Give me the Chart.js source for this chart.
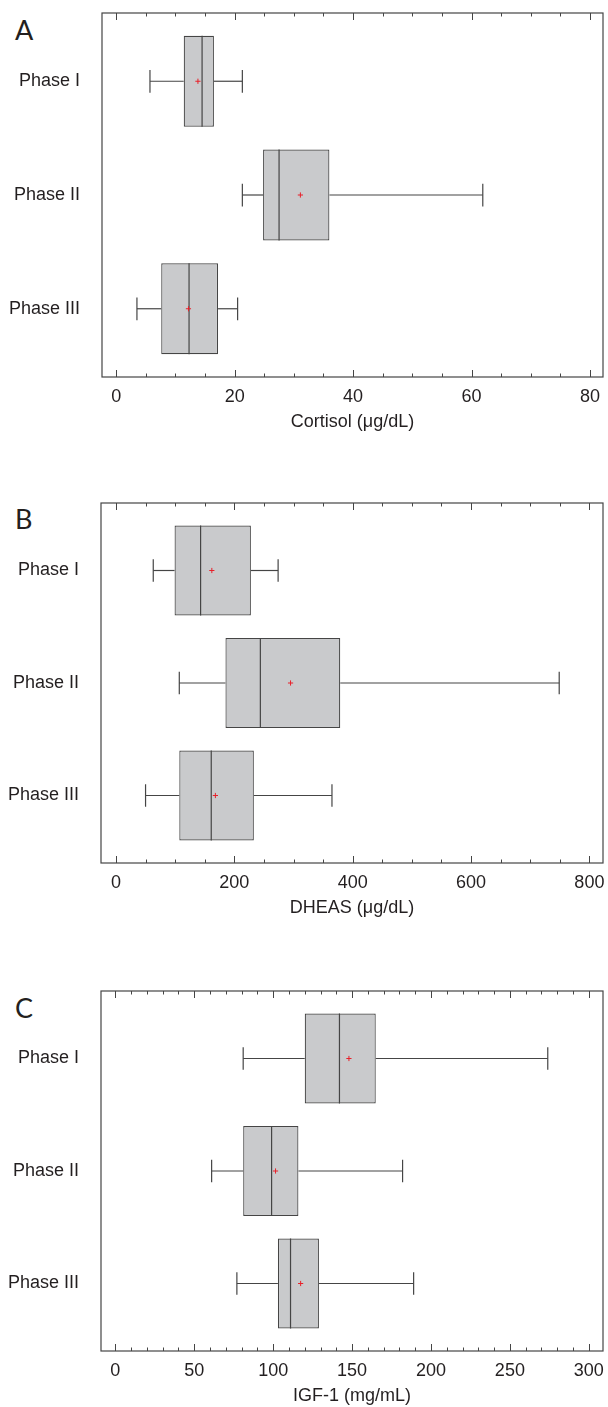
<!DOCTYPE html>
<html>
<head>
<meta charset="utf-8">
<script src="https://cdn.jsdelivr.net/npm/chart.js@4.4.1/dist/chart.umd.min.js"></script>
<style>
  body { margin: 0; background: #fff; }
  #page { position: relative; width: 608px; height: 1407px; }
  canvas { position: absolute; left: 0; }
  .tag { position: absolute; left: 15px; font: 27px Lato, "Liberation Sans", sans-serif; line-height: 27px; color: #231f20; }
</style>
</head>
<body>
<div id="page">
  <div class="tag" style="top:16px">A</div>
  <canvas id="chartA" width="608" height="440" style="top:0px"></canvas>
  <div class="tag" style="top:505px">B</div>
  <canvas id="chartB" width="608" height="460" style="top:470px"></canvas>
  <div class="tag" style="top:994px">C</div>
  <canvas id="chartC" width="608" height="458" style="top:949px"></canvas>
</div>
<script>
// categories
const phases = ["Phase I", "Phase II", "Phase III"];

// Cortisol (µg/dL): whisker low, Q1, median, Q3, whisker high, mean
const cortisolLow    = [5.7, 21.3, 3.5];
const cortisolQ1     = [11.4, 24.8, 7.6];
const cortisolMedian = [14.5, 27.5, 12.3];
const cortisolQ3     = [16.5, 36.0, 17.2];
const cortisolHigh   = [21.3, 61.9, 20.5];
const cortisolMean   = [13.8, 31.1, 12.2];
const cortisolTicks  = [0, 20, 40, 60, 80];

// DHEAS (µg/dL)
const dheasLow    = [63, 107, 50];
const dheasQ1     = [99, 185, 107];
const dheasMedian = [143, 244, 161];
const dheasQ3     = [228, 379, 233];
const dheasHigh   = [274, 749, 365];
const dheasMean   = [162, 295, 168];
const dheasTicks  = [0, 200, 400, 600, 800];

// IGF-1 (mg/mL)
const igfLow    = [81, 61, 77];
const igfQ1     = [120, 81, 103];
const igfMedian = [142, 99, 111];
const igfQ3     = [165, 116, 129];
const igfHigh   = [274, 182, 189];
const igfMean   = [148, 101.5, 117.4];
const igfTicks  = [0, 50, 100, 150, 200, 250, 300];

const FONT = "'Liberation Sans', Arial, sans-serif";
const TEXT = "#231f20";
const LINE = "#454545";

function makePanel(id, p) {
  // frame round the plot area, with inward ticks on top and bottom
  const framePlugin = {
    id: "frame",
    afterDraw(chart) {
      const { ctx, chartArea: a, scales: { x } } = chart;
      ctx.save();
      ctx.strokeStyle = LINE;
      ctx.lineWidth = 1.2;
      ctx.strokeRect(a.left, a.top, a.right - a.left, a.bottom - a.top);
      ctx.lineWidth = 1;
      x.ticks.forEach(t => {
        const px = Math.round(x.getPixelForValue(t.value)) + 0.5;
        const len = p.major.includes(t.value) ? 7 : 3.5;
        ctx.beginPath();
        ctx.moveTo(px, a.bottom); ctx.lineTo(px, a.bottom - len);
        ctx.moveTo(px, a.top);    ctx.lineTo(px, a.top + len);
        ctx.stroke();
      });
      ctx.restore();
    }
  };

  // whiskers and median, drawn right after the boxes
  const boxPlugin = {
    id: "boxParts",
    afterDatasetDraw(chart, args) {
      if (args.index !== 1) return;
      const { ctx, scales: { x, y } } = chart;
      const bars = chart.getDatasetMeta(1).data;
      const line = (x1, y1, x2, y2) => { ctx.beginPath(); ctx.moveTo(x1, y1); ctx.lineTo(x2, y2); ctx.stroke(); };
      ctx.save();
      ctx.strokeStyle = LINE;
      ctx.lineWidth = 1.2;
      p.low.forEach((lo, i) => {
        const cy = y.getPixelForValue(i + 1);
        const c1 = y.getPixelForValue(i + 1 - 0.1), c2 = y.getPixelForValue(i + 1 + 0.1);
        const xl = x.getPixelForValue(lo), xh = x.getPixelForValue(p.high[i]);
        const x1 = x.getPixelForValue(p.q1[i]), x3 = x.getPixelForValue(p.q3[i]);
        line(xl, cy, x1, cy); line(xl, c1, xl, c2);
        line(x3, cy, xh, cy); line(xh, c1, xh, c2);
        const xm = x.getPixelForValue(p.median[i]);
        const b = bars[i];
        line(xm, b.y - b.height / 2, xm, b.y + b.height / 2);
      });
      ctx.restore();
    }
  };

  new Chart(document.getElementById(id), {
    type: "bar",
    plugins: [framePlugin, boxPlugin],
    data: {
      datasets: [
        {
          type: "scatter",
          data: p.mean.map((v, i) => ({ x: v, y: i + 1 })),
          pointStyle: "cross",
          pointRadius: 2.6,
          pointBorderColor: "#e8202a",
          pointBorderWidth: 1,
          order: 0
        },
        {
          type: "bar",
          data: p.q1.map((v, i) => ({ x: [v, p.q3[i]], y: i + 1 })),
          backgroundColor: "#c9cacc",
          borderColor: LINE,
          borderWidth: 1.2,
          borderSkipped: false,
          categoryPercentage: 0.8,
          barPercentage: 1,
          order: 1
        }
      ]
    },
    options: {
      indexAxis: "y",
      responsive: false,
      animation: false,
      events: [],
      layout: { padding: p.pad },
      plugins: { legend: { display: false }, tooltip: { enabled: false } },
      scales: {
        x: {
          type: "linear", position: "bottom", min: p.min, max: p.max, offset: false,
          grid: { display: false, drawTicks: false }, border: { display: false },
          ticks: {
            autoSkip: false, maxRotation: 0, padding: 9,
            color: TEXT, font: { family: FONT, size: 18 },
            callback: v => p.major.includes(v) ? String(v) : ""
          },
          // major and minor ticks from 0 to the last major label
          afterBuildTicks: s => {
            const last = p.major[p.major.length - 1];
            const t = [];
            for (let v = 0; v <= last; v += p.step) t.push({ value: v });
            s.ticks = t;
          },
          title: { display: true, text: p.title, color: TEXT, font: { family: FONT, size: 18 }, padding: 0 },
          afterFit: s => { s.height = 56; s.paddingLeft = 0; s.paddingRight = 0; }
        },
        y: {
          type: "linear", min: 0.4, max: 3.6, reverse: true, offset: false,
          grid: { display: false, drawTicks: false }, border: { display: false },
          ticks: {
            autoSkip: false, padding: 22,
            color: TEXT, font: { family: FONT, size: 18 },
            callback: v => phases[Math.round(v) - 1] || ""
          },
          afterBuildTicks: s => { s.ticks = phases.map((_, i) => ({ value: i + 1 })); },
          afterFit: s => { s.width = p.left; s.paddingTop = 0; s.paddingBottom = 0; }
        }
      }
    }
  });
}

makePanel("chartA", {
  low: cortisolLow, q1: cortisolQ1, median: cortisolMedian, q3: cortisolQ3, high: cortisolHigh, mean: cortisolMean,
  major: cortisolTicks, min: -2.4, max: 82.2, step: 5, title: "Cortisol (μg/dL)",
  left: 102, pad: { top: 13, right: 2, bottom: 7, left: 0 }
});
makePanel("chartB", {
  low: dheasLow, q1: dheasQ1, median: dheasMedian, q3: dheasQ3, high: dheasHigh, mean: dheasMean,
  major: dheasTicks, min: -25.3, max: 823, step: 50, title: "DHEAS (μg/dL)",
  left: 101, pad: { top: 33, right: 4, bottom: 11, left: 0 }
});
makePanel("chartC", {
  low: igfLow, q1: igfQ1, median: igfMedian, q3: igfQ3, high: igfHigh, mean: igfMean,
  major: igfTicks, min: -9.1, max: 309, step: 10, title: "IGF-1 (mg/mL)",
  left: 101, pad: { top: 42, right: 4, bottom: 0, left: 0 }
});
</script>
</body>
</html>
